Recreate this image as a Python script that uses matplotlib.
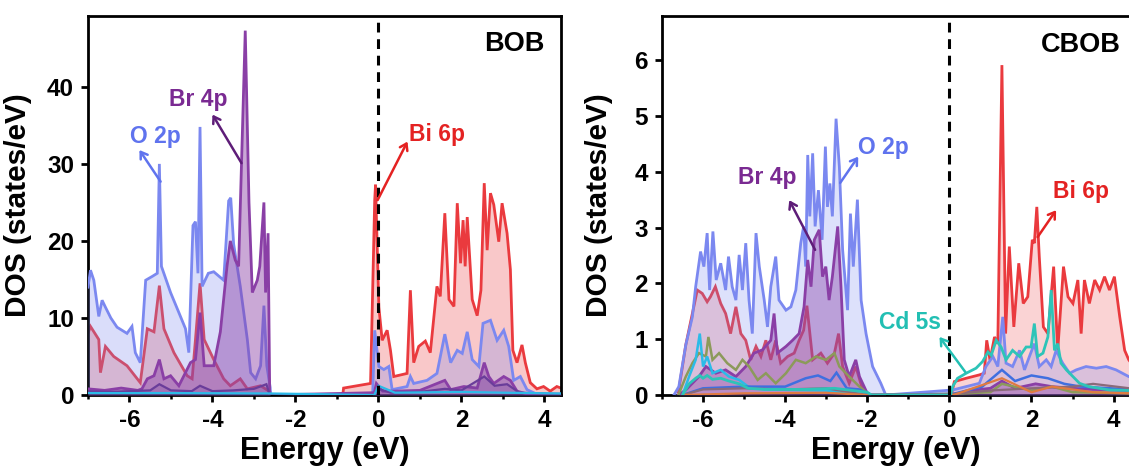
import matplotlib
matplotlib.use("Agg")
import matplotlib.pyplot as plt
from matplotlib.ticker import MultipleLocator

plt.rcParams['font.family'] = ['Liberation Sans', 'DejaVu Sans']
plt.rcParams['font.weight'] = 'bold'
plt.rcParams['axes.unicode_minus'] = False

# ---------------- BOB panel data (energy in eV, DOS in states/eV) ----------------
bob_o2p_x = [-7.0, -6.94, -6.86, -6.74, -6.66, -6.58, -6.45, -6.3, -6.06, -5.94, -5.86, -5.74, -5.61, -5.45, -5.33, -5.28,
             -5.23, -5.01, -4.81, -4.65, -4.57, -4.47, -4.41, -4.35, -4.30, -4.25, -4.10, -3.97, -3.73, -3.61, -3.56,
             -3.49, -3.33, -3.16, -3.08, -2.96, -2.84, -2.76, -2.69, -2.61, -2.60, -0.14, -0.09, 0.01, 0.13, 0.25,
             0.33, 0.69, 0.77, 0.85, 1.17, 1.41, 1.60, 1.74, 1.90, 2.02, 2.14, 2.26, 2.42, 2.52, 2.70, 2.86, 3.02,
             3.14, 3.26, 3.42, 3.58, 3.82, 4.4]
bob_o2p_y = [14.0, 16.2, 14.9, 10.2, 12.3, 11.4, 10.0, 8.8, 8.0, 8.9, 5.5, 4.2, 14.9, 15.4, 15.8, 30.0,
             16.7, 13.3, 10.7, 8.6, 5.5, 22.0, 22.5, 15.8, 34.8, 14.1, 15.8, 16.0, 14.9, 25.2, 25.6,
             19.6, 14.1, 7.2, 2.9, 2.1, 3.8, 11.6, 3.8, 1.0, 0.0, 0.0, 8.4, 3.7, 3.3, 3.7,
             0.7, 1.1, 2.4, 1.5, 1.9, 2.8, 7.9, 4.2, 5.8, 5.4, 8.2, 4.6, 3.7, 9.3, 9.7, 7.1, 8.4,
             6.3, 1.9, 2.4, 0.7, 0.1, 0.1]

bob_bi_x = [-7.0, -6.94, -6.74, -6.70, -6.58, -6.38, -6.06, -5.74, -5.57, -5.41, -5.28, -5.17, -4.93, -4.61, -4.49,
            -4.41, -4.30, -4.20, -3.97, -3.73, -3.57, -3.33, -3.16, -2.84, -2.61, -2.60, -0.86, -0.84, -0.19, -0.09,
            -0.07, 0.01, 0.09, 0.21, 0.29, 0.37, 0.69, 0.77, 0.85, 0.97, 1.13, 1.25, 1.41, 1.49, 1.60, 1.70, 1.82,
            1.90, 1.98, 2.04, 2.09, 2.14, 2.26, 2.38, 2.47, 2.55, 2.62, 2.70, 2.78, 2.90, 2.98, 3.10, 3.18, 3.24,
            3.34, 3.46, 3.54, 3.66, 3.82, 3.98, 4.14, 4.30, 4.4]
bob_bi_y = [8.0, 8.9, 7.2, 2.9, 6.3, 5.0, 3.8, 1.6, 8.6, 8.2, 14.2, 8.6, 5.5, 2.5, 2.1,
            7.2, 14.5, 7.2, 4.6, 2.1, 1.2, 2.1, 0.8, 1.2, 0.4, 0.0, 0.0, 0.9, 1.5, 25.3,
            27.3, 11.4, 7.1, 8.4, 5.8, 2.4, 2.8, 13.6, 4.2, 6.3, 7.0, 5.5, 14.1, 12.8, 23.6, 12.4, 11.5,
            24.9, 17.1, 22.7, 16.7, 23.1, 12.4, 10.3, 13.6, 27.5, 18.8, 26.2, 24.7, 19.9, 24.9, 21.0, 16.3, 5.8,
            4.2, 6.5, 4.2, 1.6, 0.8, 1.1, 0.5, 1.1, 0.9]

bob_br_x = [-7.0, -6.6, -6.2, -5.8, -5.7, -5.57, -5.41, -5.28, -5.17, -5.01, -4.81, -4.53, -4.41, -4.30, -4.20,
            -3.97, -3.81, -3.65, -3.57, -3.45, -3.37, -3.21, -3.12, -3.04, -2.92, -2.86, -2.76, -2.72, -2.66,
            -2.62, -0.1, -0.05, 0.1, 0.4, 1.0, 1.6, 1.74, 2.06, 2.38, 2.55, 2.66, 2.78, 3.02, 3.18, 3.34, 3.6, 4.4]
bob_br_y = [0.8, 0.6, 0.9, 0.6, 0.8, 2.1, 2.5, 4.6, 2.1, 2.5, 1.2, 4.2, 4.6, 10.7, 3.8,
            3.8, 8.2, 16.7, 20.0, 17.5, 16.7, 47.3, 25.0, 13.3, 14.9, 16.7, 25.0, 13.3, 21.0,
            0.0, 0.3, 1.5, 0.5, 0.5, 0.6, 1.9, 0.7, 1.1, 0.9, 4.2, 2.4, 1.5, 2.4, 1.9, 0.5, 0.1, 0.1]

bob_bis_x = [-7.0, -6.5, -6.0, -5.5, -5.28, -5.0, -4.5, -4.3, -4.0, -3.5, -3.0, -2.7, -2.62, -0.1, 0.0, 0.3, 1.0,
             1.6, 2.0, 2.55, 2.8, 3.1, 3.4, 4.4]
bob_bis_y = [0.5, 0.4, 0.5, 0.6, 1.4, 0.6, 0.5, 1.2, 0.5, 0.6, 0.8, 1.4, 0.0, 0.0, 0.8, 0.3, 0.4,
             0.8, 0.6, 2.4, 1.2, 1.4, 0.3, 0.1]

bob_cy_x = [-7.0, -5.0, -2.62, -0.1, 0.0, 0.4, 2.0, 3.0, 4.4]
bob_cy_y = [0.25, 0.25, 0.2, 0.0, 1.2, 0.3, 0.4, 0.3, 0.2]

# ---------------- CBOB panel data ----------------
cb_o2p_x = [-6.71, -6.59, -6.42, -6.26, -6.18, -6.06, -5.98, -5.90, -5.84, -5.76, -5.68, -5.57, -5.45, -5.38, -5.29,
            -5.20, -5.12, -5.04, -4.96, -4.88, -4.80, -4.71, -4.63, -4.51, -4.43, -4.35, -4.23, -4.15, -3.98, -3.86,
            -3.74, -3.62, -3.55, -3.50, -3.45, -3.40, -3.33, -3.27, -3.19, -3.10, -3.02, -2.97, -2.91, -2.85, -2.76,
            -2.68, -2.60, -2.48, -2.41, -2.34, -2.24, -2.15, -2.03, -1.87, -1.67, -1.55, 0.08, 0.73, 0.89, 1.06,
            1.18, 1.30, 1.38, 1.54, 1.71, 1.83, 1.95, 2.07, 2.19, 2.36, 2.48, 2.60, 2.76, 2.93, 3.09, 3.33, 3.58,
            3.82, 4.06, 4.37, 4.4]
cb_o2p_y = [0.0, 0.15, 0.9, 1.4, 1.94, 2.57, 2.3, 2.9, 1.88, 2.93, 2.06, 2.36, 1.88, 2.48, 1.94,
            1.70, 2.51, 1.88, 2.72, 1.70, 1.10, 2.9, 2.3, 1.70, 1.22, 1.94, 2.48, 1.70, 1.52, 1.58,
            1.88, 2.72, 3.02, 2.3, 4.3, 3.2, 4.33, 3.02, 3.67, 2.78, 4.45, 3.37, 3.79, 3.2, 4.95,
            4.09, 2.60, 1.52, 3.25, 2.3, 3.5, 1.7, 1.10, 0.51, 0.21, 0.0, 0.09, 0.21, 0.51, 0.69,
            0.51, 1.40, 0.57, 0.51, 0.80, 0.45, 0.69, 0.92, 0.51, 0.63, 0.51, 0.80, 0.57, 0.39, 0.45, 0.51, 0.48,
            0.51, 0.45, 0.33, 0.33]

cb_bi_x = [-6.6, -6.42, -6.26, -6.14, -6.02, -5.90, -5.82, -5.70, -5.57, -5.45, -5.33, -5.20, -5.08, -4.96, -4.84,
           -4.71, -4.59, -4.47, -4.35, -4.23, -4.11, -3.94, -3.78, -3.66, -3.55, -3.47, -3.33, -3.13, -2.97, -2.80,
           -2.70, -2.60, -2.44, -2.28, -2.11, -1.95, 0.05, 0.12, 0.41, 0.73, 0.85, 0.91, 0.99, 1.10, 1.18, 1.28,
           1.37, 1.46, 1.57, 1.69, 1.80, 1.91, 2.02, 2.07, 2.13, 2.19, 2.29, 2.40, 2.54, 2.64, 2.78, 2.89, 3.01,
           3.13, 3.21, 3.29, 3.41, 3.54, 3.66, 3.78, 3.90, 4.02, 4.15, 4.27, 4.37, 4.4]
cb_bi_y = [0.05, 0.9, 1.46, 1.88, 1.82, 1.67, 1.76, 1.94, 1.64, 1.46, 1.10, 1.58, 1.10, 0.98, 0.63,
           0.87, 0.69, 0.98, 0.63, 0.98, 0.57, 0.69, 0.75, 0.98, 1.16, 1.6, 0.63, 0.75, 0.57, 0.75,
           1.10, 0.51, 0.21, 0.51, 0.09, 0.0, 0.0, 0.24, 0.30, 0.36, 0.39, 0.98, 0.63, 1.04, 0.92, 5.91,
           1.10, 2.66, 1.22, 2.36, 1.64, 1.76, 2.78, 2.72, 3.37, 2.48, 1.22, 1.10, 2.30, 0.80, 2.30, 1.76, 1.64,
           2.06, 1.10, 2.06, 1.64, 2.06, 1.88, 2.12, 1.88, 2.12, 1.40, 0.80, 0.63, 0.6]

cb_br_x = [-6.6, -6.42, -6.10, -5.93, -5.69, -5.45, -5.20, -4.96, -4.76, -4.55, -4.35, -4.27, -4.19, -3.98, -3.82,
           -3.66, -3.54, -3.45, -3.37, -3.29, -3.17, -3.09, -3.01, -2.93, -2.85, -2.72, -2.64, -2.56, -2.44, -2.28,
           -2.19, -2.0, -1.9, 0.05, 0.5, 1.0, 1.28, 1.6, 2.1, 2.5, 3.0, 3.5, 4.4]
cb_br_y = [0.0, 0.09, 0.33, 0.51, 0.39, 0.45, 0.33, 0.51, 0.75, 0.81, 0.98, 1.46, 0.75, 0.87, 0.98,
           1.10, 1.58, 2.42, 1.94, 2.78, 2.96, 2.12, 2.3, 1.7, 2.12, 3.02, 1.94, 0.63, 0.33, 0.63,
           0.33, 0.03, 0.0, 0.0, 0.08, 0.12, 0.25, 0.12, 0.2, 0.15, 0.12, 0.1, 0.08]

cb_cd5s_x = [-6.5, -6.34, -6.18, -6.08, -6.0, -5.90, -5.77, -5.57, -5.37, -5.12, -4.9, -4.5, -3.5, -2.8, -2.0, -1.9,
             0.03, 0.08, 0.20, 0.41, 0.65, 0.81, 0.94, 1.02, 1.14, 1.26, 1.38, 1.54, 1.71, 1.87, 1.99, 2.07,
             2.15, 2.28, 2.40, 2.48, 2.56, 2.64, 2.72, 2.85, 3.01, 3.17, 3.4, 3.9, 4.4]
cb_cd5s_y = [0.0, 0.20, 0.30, 0.35, 0.30, 0.35, 0.28, 0.30, 0.25, 0.20, 0.12, 0.1, 0.1, 0.12, 0.05, 0.0,
             0.0, 0.15, 0.30, 0.39, 0.48, 0.60, 0.77, 0.71, 0.98, 0.86, 0.63, 0.80, 0.69, 0.86, 0.86, 1.28,
             0.69, 0.75, 1.04, 1.88, 0.80, 0.92, 0.57, 0.45, 0.33, 0.21, 0.15, 0.09, 0.08]

cb_cy_x = [-6.5, -6.34, -6.18, -6.08, -6.0, -5.90, -5.77, -5.57, -5.37, -5.12, -4.9, -4.5, -3.0, -2.0]
cb_cy_y = [0.0, 0.33, 0.63, 1.10, 0.51, 0.69, 0.39, 0.45, 0.33, 0.27, 0.15, 0.1, 0.08, 0.0]

cb_ol_x = [-6.6, -6.42, -6.26, -6.10, -5.93, -5.87, -5.77, -5.61, -5.41, -5.20, -5.04, -4.88, -4.67, -4.47, -4.23,
           -3.98, -3.74, -3.50, -3.25, -3.01, -2.80, -2.68, -2.44, -2.19, -1.95, 0.1, 1.0, 1.28, 2.0, 2.5, 3.0, 4.4]
cb_ol_y = [0.0, 0.33, 0.57, 0.75, 0.69, 1.04, 0.63, 0.75, 0.57, 0.45, 0.63, 0.51, 0.27, 0.39, 0.21,
           0.39, 0.63, 0.57, 0.69, 0.63, 0.75, 0.51, 0.33, 0.15, 0.0, 0.02, 0.05, 0.2, 0.08, 0.15, 0.05, 0.03]

cb_bl_x = [-6.5, -6.0, -5.0, -4.0, -3.5, -3.2, -2.9, -2.75, -2.5, -2.2, -1.9, 0.1, 0.8, 1.28, 1.6, 2.0, 2.4, 2.8,
           3.2, 4.4]
cb_bl_y = [0.0, 0.12, 0.15, 0.15, 0.3, 0.35, 0.25, 0.4, 0.12, 0.1, 0.0, 0.02, 0.15, 0.45, 0.25, 0.35, 0.3, 0.2,
           0.15, 0.1]

cb_br2_x = [-6.5, -6.0, -5.0, -4.0, -3.0, -2.0, 0.1, 1.0, 2.0, 3.0, 3.5, 4.4]
cb_br2_y = [0.0, 0.1, 0.12, 0.1, 0.12, 0.0, 0.02, 0.08, 0.12, 0.15, 0.2, 0.12]

cb_or_x = [-6.5, -5.0, -3.0, -2.0, 0.1, 1.28, 2.0, 2.5, 3.5, 4.4]
cb_or_y = [0.0, 0.03, 0.04, 0.0, 0.0, 0.3, 0.05, 0.15, 0.05, 0.03]

# ---------------- styling ----------------
C_O = '#7b88f0'
C_BI = '#ea3a3e'
C_BR = '#8a3fa6'
C_BIS = '#6a3d9a'
C_CD = '#2ec4b8'
C_CY = '#2bbbe8'
C_OL = '#8c9a5a'
C_BL = '#3f6fe0'
C_BRN = '#8a6a7a'
C_OR = '#e07a40'

fig = plt.figure(figsize=(11.29, 4.68), dpi=100)
ax1 = fig.add_axes([88 / 1129, 73 / 468, 473 / 1129, 379 / 468])
ax2 = fig.add_axes([662 / 1129, 73 / 468, 468 / 1129, 379 / 468])


def series(ax, x, y, color, lw=2.0, fill_alpha=0.0, z=2):
    if fill_alpha > 0:
        ax.fill_between(x, 0, y, color=color, alpha=fill_alpha, lw=0, zorder=z)
    ax.plot(x, y, color=color, lw=lw, zorder=z + 0.5, solid_joinstyle='miter')


# left panel
series(ax1, bob_bi_x, bob_bi_y, C_BI, fill_alpha=0.28, z=2)
series(ax1, bob_o2p_x, bob_o2p_y, C_O, fill_alpha=0.28, z=3)
series(ax1, bob_br_x, bob_br_y, C_BR, fill_alpha=0.45, z=4)
series(ax1, bob_bis_x, bob_bis_y, C_BIS, lw=1.6, fill_alpha=0.2, z=5)
series(ax1, bob_cy_x, bob_cy_y, C_CY, lw=1.6, z=6)

# right panel
series(ax2, cb_bi_x, cb_bi_y, C_BI, fill_alpha=0.22, z=2)
series(ax2, cb_o2p_x, cb_o2p_y, C_O, fill_alpha=0.25, z=3)
series(ax2, cb_br_x, cb_br_y, C_BR, fill_alpha=0.4, z=4)
series(ax2, cb_ol_x, cb_ol_y, C_OL, lw=1.8, z=5)
series(ax2, cb_cy_x, cb_cy_y, C_CY, lw=1.8, z=5)
series(ax2, cb_bl_x, cb_bl_y, C_BL, lw=1.8, z=5)
series(ax2, cb_br2_x, cb_br2_y, C_BRN, lw=1.6, z=5)
series(ax2, cb_or_x, cb_or_y, C_OR, lw=1.6, z=5)
series(ax2, cb_cd5s_x, cb_cd5s_y, C_CD, lw=2.0, z=6)

for ax, ymax, ystep in ((ax1, 49.2, 10), (ax2, 6.79, 1)):
    ax.set_xlim(-7.0, 4.4)
    ax.set_ylim(0, ymax)
    ax.axvline(0, color='black', ls=(0, (3.2, 2.2)), lw=2.2, zorder=10)
    ax.xaxis.set_major_locator(MultipleLocator(2))
    ax.xaxis.set_minor_locator(MultipleLocator(1))
    ax.yaxis.set_major_locator(MultipleLocator(ystep))
    ax.tick_params(axis='both', which='major', direction='out', length=5, width=2, labelsize=17.5, pad=5)
    ax.tick_params(axis='x', which='minor', direction='out', length=3, width=1.8)
    ax.tick_params(top=False, right=False)
    for sp in ax.spines.values():
        sp.set_linewidth(2.0)
    for lab in ax.get_xticklabels() + ax.get_yticklabels():
        lab.set_fontweight('bold')
    ax.set_xlabel('Energy (eV)', fontsize=22, fontweight='bold', labelpad=3)
    ax.set_ylabel('DOS (states/eV)', fontsize=21.5, fontweight='bold')

ax1.yaxis.set_label_coords(-0.118, 0.5)
ax2.yaxis.set_label_coords(-0.104, 0.5)

# panel titles
ax1.text(3.28, 45.6, 'BOB', fontsize=19.5, fontweight='bold', ha='center', va='center')
ax2.text(3.2, 6.27, 'CBOB', fontsize=19.5, fontweight='bold', ha='center', va='center')

arrow_kw = dict(arrowstyle='->,head_length=0.45,head_width=0.3', lw=1.8, shrinkA=0, shrinkB=0)


def label(ax, text, color, txy, tail, head, tcolor=None):
    ax.text(txy[0], txy[1], text, color=tcolor or color, fontsize=16.5, fontweight='bold',
            ha='center', va='center', zorder=12)
    ax.annotate('', xy=head, xytext=tail, arrowprops=dict(color=color, **arrow_kw), zorder=12)


label(ax1, 'O 2p', '#5f73ee', (-5.37, 33.5), (-5.25, 27.7), (-5.76, 31.8))
label(ax1, 'Br 4p', '#5e1d78', (-4.34, 38.3), (-3.30, 30.1), (-4.0, 36.4), tcolor='#7a2a92')
label(ax1, 'Bi 6p', '#e42222', (1.42, 33.8), (-0.02, 25.3), (0.70, 32.9))

label(ax2, 'O 2p', '#5f73ee', (-1.61, 4.44), (-2.66, 3.80), (-2.22, 4.27))
label(ax2, 'Br 4p', '#5e1d78', (-4.44, 3.9), (-3.27, 2.6), (-3.9, 3.49), tcolor='#7a2a92')
label(ax2, 'Bi 6p', '#e42222', (3.2, 3.64), (2.15, 2.83), (2.6, 3.31))
label(ax2, 'Cd 5s', '#22bfb3', (-0.95, 1.29), (0.39, 0.41), (-0.24, 1.04))

fig.savefig('out.png', dpi=100)
